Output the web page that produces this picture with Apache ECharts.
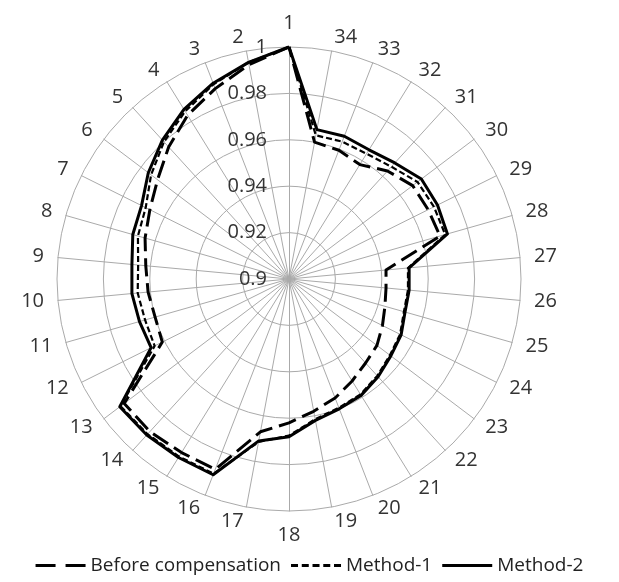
<!DOCTYPE html>
<html><head><meta charset="utf-8">
<script src="https://cdn.jsdelivr.net/npm/echarts@6/dist/echarts.min.js"></script>
<style>html,body{margin:0;padding:0;background:#fff}#c{width:619px;height:582px}</style>
</head><body><div id="c"></div>
<script>
const categories = ['1','2','3','4','5','6','7','8','9','10','11','12','13','14','15','16','17','18','19','20','21','22','23','24','25','26','27','28','29','30','31','32','33','34'];
const seriesNames = ['Before compensation','Method-1','Method-2'];
const beforeComp = [1.0,0.994,0.988,0.983,0.977,0.971,0.967,0.9645,0.962,0.961,0.960,0.961,0.989,0.989,0.988,0.988,0.967,0.962,0.958,0.955,0.9517,0.949,0.9475,0.945,0.943,0.942,0.942,0.9677,0.967,0.9668,0.963,0.958,0.9595,0.960];
const method1 = [1.0,0.995,0.990,0.985,0.980,0.9745,0.969,0.9677,0.9653,0.9655,0.9645,0.9647,0.991,0.9905,0.990,0.990,0.9715,0.9675,0.9615,0.9595,0.9585,0.9565,0.9545,0.9535,0.9515,0.9515,0.9515,0.970,0.9698,0.9694,0.9655,0.9635,0.9635,0.963];
const method2 = [1.0,0.995,0.9905,0.986,0.981,0.976,0.971,0.970,0.968,0.968,0.967,0.9664,0.9914,0.991,0.9905,0.9905,0.971,0.968,0.962,0.960,0.959,0.957,0.955,0.954,0.952,0.952,0.952,0.971,0.9715,0.9715,0.9677,0.9655,0.966,0.9655];
const axisMin = 0.9, axisMax = 1.0;

const FONT = 'Open Sans';
const indicator = categories.map((c, i) => {
  const o = {name: c, min: axisMin, max: axisMax};
  if (i === 0) o.axisLabel = {show: true};
  return o;
});
const chart = echarts.init(document.getElementById('c'), null, {renderer: 'canvas'});
chart.setOption({
  animation: false,
  backgroundColor: '#fff',
  legend: {
    bottom: 2, left: 'center',
    itemWidth: 50, itemHeight: 3, itemGap: 10,
    textStyle: {fontFamily: FONT, fontSize: 19, color: '#222'},
    data: [
      {name: seriesNames[0], icon: 'path://M0,0h20v3h-20z M30,0h20v3h-20z'},
      {name: seriesNames[1], icon: 'path://M0,0h7v3h-7z M10.75,0h7v3h-7z M21.5,0h7v3h-7z M32.25,0h7v3h-7z M43,0h7v3h-7z'},
      {name: seriesNames[2], icon: 'rect'}
    ]
  },
  radar: {
    center: [289, 279], radius: 232, startAngle: 90,
    shape: 'circle', splitNumber: 5,
    indicator: indicator,
    axisName: {color: '#333', fontFamily: FONT, fontSize: 20},
    nameGap: 14,
    axisLine: {lineStyle: {color: '#aaa', width: 1}},
    splitLine: {lineStyle: {color: '#aaa', width: 1}},
    splitArea: {show: false},
    axisLabel: {show: false, color: '#333', fontFamily: FONT, fontSize: 20, margin: 22,
      formatter: v => String(+(+v).toFixed(2))}
  },
  series: [{
    type: 'radar', symbol: 'none',
    data: [
      {name: seriesNames[0], value: beforeComp, lineStyle: {color: '#000', width: 3, type: [18, 7]}, itemStyle: {color: '#000'}},
      {name: seriesNames[1], value: method1, lineStyle: {color: '#000', width: 2.2, type: [6, 3]}, itemStyle: {color: '#000'}},
      {name: seriesNames[2], value: method2, lineStyle: {color: '#000', width: 3, type: 'solid'}, itemStyle: {color: '#000'}}
    ]
  }]
});
</script></body></html>
